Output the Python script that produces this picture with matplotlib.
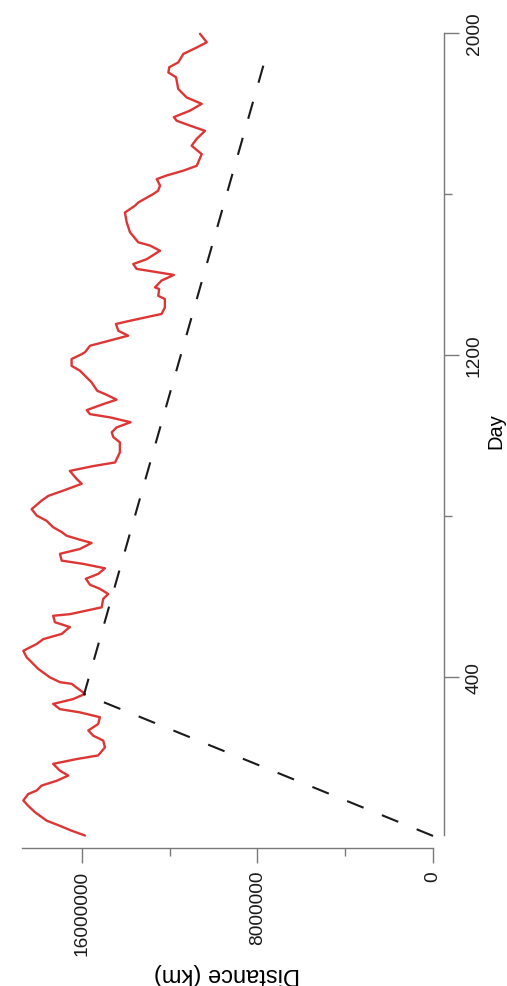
#!/usr/bin/env python
"""Distance vs day, drawn rotated (day axis on the right, distance along the bottom)."""

import matplotlib

matplotlib.use("Agg")
import matplotlib.pyplot as plt
import numpy as np

DAYS = [6, 18, 30, 43, 64, 80, 93, 109, 118, 130, 142, 155, 167, 184, 196, 205,
        225, 242, 254, 267, 283, 300, 312, 320, 333, 345, 358, 383, 387, 399,
        420, 449, 465, 482, 494, 507, 524, 536, 552, 556, 565, 573, 594, 606,
        619, 629, 644, 656, 670, 681, 689, 706, 718, 733, 741, 751, 760, 772,
        788, 801, 817, 838, 850, 863, 880, 892, 912, 924, 933, 958, 983, 996,
        1008, 1020, 1033, 1045, 1053, 1063, 1078, 1089, 1103, 1111, 1132, 1153,
        1161, 1173, 1190, 1202, 1207, 1223, 1236, 1248, 1260, 1277, 1285, 1294,
        1302, 1318, 1339, 1347, 1364, 1368, 1385, 1399, 1406, 1414, 1426, 1438,
        1459, 1472, 1480, 1505, 1530, 1554, 1571, 1579, 1600, 1608, 1621, 1637,
        1646, 1658, 1670, 1699, 1720, 1737, 1757, 1770, 1782, 1791, 1807, 1824,
        1840, 1861, 1890, 1902, 1915, 1927, 1948, 1964, 1977, 1998]
DISTANCE_MKM = [15.86, 16.47, 17.00, 17.61, 18.14, 18.45, 18.67, 18.45, 18.06,
                17.84, 17.15, 16.62, 17.00, 17.31, 16.24, 15.26, 14.95, 15.03,
                15.48, 15.71, 15.26, 15.18, 16.09, 17.00, 17.31, 16.40, 15.86,
                16.47, 17.00, 17.46, 17.99, 18.52, 18.67, 18.06, 17.76, 16.92,
                16.55, 17.23, 17.31, 16.55, 15.78, 15.10, 15.03, 14.80, 15.18,
                15.63, 15.82, 15.26, 14.95, 15.94, 16.92, 17.00, 16.09, 15.56,
                16.09, 16.70, 16.92, 17.31, 17.61, 18.06, 18.29, 17.84, 17.53,
                16.85, 16.01, 16.24, 16.55, 15.48, 14.49, 14.27, 14.27, 14.57,
                14.64, 14.42, 13.78, 14.72, 15.63, 15.78, 15.03, 14.42, 14.95,
                15.30, 15.56, 15.94, 16.09, 16.47, 16.47, 16.01, 15.86, 15.63,
                14.72, 13.89, 14.34, 14.45, 13.81, 13.05, 12.37, 12.22, 12.22,
                12.52, 12.48, 12.67, 12.37, 11.81, 12.59, 13.51, 13.66, 13.05,
                12.44, 12.90, 13.43, 13.81, 13.96, 14.04, 13.58, 13.43, 12.75,
                12.53, 12.44, 12.59, 12.14, 11.38, 10.77, 10.54, 11.00, 10.77,
                10.39, 11.08, 11.68, 11.81, 11.08, 10.54, 11.23, 11.61, 11.71,
                12.06, 12.02, 11.61, 11.38, 10.77, 10.31, 10.62]

# dashed reference path
TREND_DAYS = [5, 357, 1950]
TREND_MKM = [0.0, 15.9, 7.57]

DIST_MAJOR = [0, 8000000, 16000000]
DIST_MAJOR_LABELS = ["0", "8000000", "16000000"]
DIST_MINOR = [4000000, 12000000]
DAY_MAJOR = [400, 1200, 2000]
DAY_MAJOR_LABELS = ["400", "1200", "2000"]
DAY_MINOR = [800, 1600]

W, H = 507, 987
AXIS_GRAY = "#7a7a7a"

plt.rcParams["font.family"] = ["Liberation Sans", "DejaVu Sans"]

fig = plt.figure(figsize=(W / 100, H / 100), dpi=100)
# axes box in pixel terms: x 22..444, y 30..849
ax = fig.add_axes([22 / W, 1 - 849 / H, (444 - 22) / W, (849 - 30) / H])

dist_km = np.asarray(DISTANCE_MKM) * 1e6
trend_km = np.asarray(TREND_MKM) * 1e6

ax.plot(dist_km, DAYS, color="#de3535", linewidth=1.7,
        solid_joinstyle="round", solid_capstyle="round")
ax.plot(trend_km, TREND_DAYS, color="#1a1a1a", linewidth=1.5, dashes=(8.5, 9.5))

ax.set_xlim(18.73e6, -0.5e6)
ax.set_ylim(-25, 2010)

for side in ("left", "top"):
    ax.spines[side].set_visible(False)
for side in ("right", "bottom"):
    ax.spines[side].set_color(AXIS_GRAY)
    ax.spines[side].set_linewidth(1.0)
ax.spines["bottom"].set_bounds(0, 18.73e6)
ax.spines["right"].set_bounds(7, 2000)

ax.yaxis.tick_right()
ax.set_xticks(DIST_MAJOR, DIST_MAJOR_LABELS, rotation=90)
ax.set_xticks(DIST_MINOR, minor=True)
ax.set_yticks(DAY_MAJOR, DAY_MAJOR_LABELS, rotation=90, va="center")
ax.set_yticks(DAY_MINOR, minor=True)

ax.tick_params(which="major", length=10.8, width=1.0, color=AXIS_GRAY,
               labelsize=13.8, labelcolor="#1a1a1a", pad=5)
ax.tick_params(which="minor", length=5.8, width=1.0, color=AXIS_GRAY)

ax.set_xlabel("Distance (km)", fontsize=17, rotation=180, ha="center", va="center")
ax.xaxis.set_label_coords((227 - 22) / 422, -(974 - 849) / 819)
ax.yaxis.set_label_position("right")
ax.set_ylabel("Day", fontsize=14.5, rotation=90, ha="center", va="center")
ax.yaxis.set_label_coords((496 - 22) / 422, (849 - 431) / 819)

fig.savefig("out.png", dpi=100)
